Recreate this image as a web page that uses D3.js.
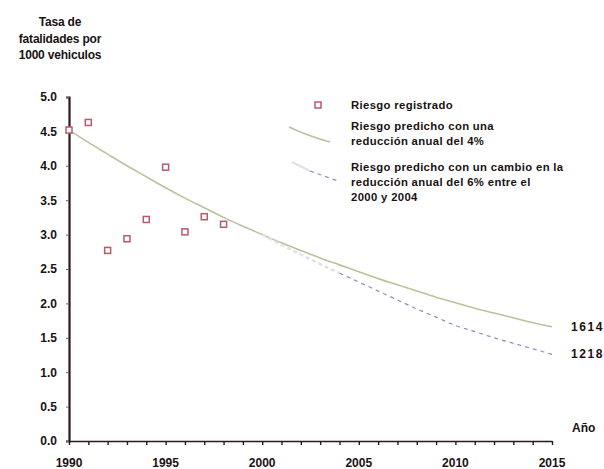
<!DOCTYPE html>
<html>
<head>
<meta charset="utf-8">
<script src="https://cdn.jsdelivr.net/npm/d3@7"></script>
<style>
  body { margin: 0; background: #fff; }
  svg text { font-family: "Liberation Sans", Arial, sans-serif; font-weight: bold; fill: #1a1214; }
</style>
</head>
<body>
<div id="chart"></div>
<script>
// observed rate
const obsYears = [1990, 1991, 1992, 1993, 1994, 1995, 1996, 1997, 1998];
const obsValues = [4.52, 4.63, 2.77, 2.94, 3.22, 3.98, 3.04, 3.26, 3.15];

// predicted, 4% annual reduction
const predYears = [1990, 1991, 1992, 1993, 1994, 1995, 1996, 1997, 1998, 1999, 2000, 2001, 2002,
  2003, 2004, 2005, 2006, 2007, 2008, 2009, 2010, 2011, 2012, 2013, 2014, 2015];
const predValues = [4.52, 4.34, 4.17, 4.0, 3.84, 3.68, 3.53, 3.39, 3.25, 3.12, 3.0, 2.88, 2.77,
  2.66, 2.56, 2.46, 2.36, 2.27, 2.18, 2.09, 2.01, 1.93, 1.86, 1.79, 1.72, 1.66];

// predicted, 6% change between 2000 and 2004
const altYears = [2000, 2001, 2002, 2003, 2004, 2005, 2006, 2007, 2008, 2009, 2010, 2011, 2012, 2013, 2014, 2015];
const altValues = [3.0, 2.85, 2.71, 2.57, 2.44, 2.31, 2.18, 2.05, 1.92, 1.8, 1.68, 1.59, 1.5, 1.42, 1.34, 1.26];

const yTicks = [0, 0.5, 1, 1.5, 2, 2.5, 3, 3.5, 4, 4.5, 5];
const xTicks = [1990, 1995, 2000, 2005, 2010, 2015];
const endLabels = ["1614", "1218"];

const width = 604, height = 469;
const svg = d3.select("#chart").append("svg").attr("width", width).attr("height", height);

const x = d3.scaleLinear().domain([1990, 2015]).range([69, 552]);
const y = d3.scaleLinear().domain([0, 5]).range([441, 97]);

// title
svg.append("text").attr("text-anchor", "middle")
  .style("font-size", "12px").style("letter-spacing", "-0.2px")
  .selectAll("tspan").data(["Tasa de", "fatalidades por", "1000 vehiculos"]).join("tspan")
  .attr("x", 60).attr("y", (d, i) => 26 + i * 16.5).text(d => d);

// y axis
const yAxis = svg.append("g").attr("transform", `translate(${x(1990)},0)`)
  .call(d3.axisLeft(y).tickValues(yTicks).tickFormat(d3.format(".1f")).tickSize(3).tickPadding(9));
yAxis.select(".domain").attr("stroke", "#2a1a1c").attr("stroke-width", 2.2);
yAxis.selectAll(".tick line").attr("stroke", "#666");
yAxis.selectAll(".tick text").style("font-size", "12px").style("font-family", "Liberation Sans, Arial, sans-serif")
  .style("font-weight", "bold").attr("fill", "#1a1214");

// x axis with yearly minor ticks
const xAxis = svg.append("g").attr("transform", `translate(0,${y(0)})`)
  .call(d3.axisBottom(x).tickValues(d3.range(1990, 2016)).tickFormat("").tickSize(4).tickSizeOuter(0));
xAxis.select(".domain").attr("stroke", "#2a1a1c").attr("stroke-width", 1.6);
xAxis.selectAll(".tick line").attr("stroke", "#2a1a1c").attr("stroke-width", 1.4);

svg.append("g").selectAll("text").data(xTicks).join("text")
  .attr("x", d => x(d)).attr("y", 467).attr("text-anchor", "middle")
  .style("font-size", "12px").text(d => d);

// lines
const line = d3.line().x(d => x(d[0])).y(d => y(d[1])).curve(d3.curveMonotoneX);

svg.append("path").datum(predYears.map((d, i) => [d, predValues[i]]))
  .attr("d", line).attr("fill", "none").attr("stroke", "#b9c39b").attr("stroke-width", 1.6);

const alt = altYears.map((d, i) => [d, altValues[i]]);
svg.append("path").datum(alt.filter(d => d[0] <= 2004))
  .attr("d", line).attr("fill", "none").attr("stroke", "#e2e2e6").attr("stroke-width", 2.5)
  .attr("stroke-dasharray", "4,3");
svg.append("path").datum(alt.filter(d => d[0] >= 2004))
  .attr("d", line).attr("fill", "none").attr("stroke", "#8f87c6").attr("stroke-width", 1.2)
  .attr("stroke-dasharray", "4,4");

// observed markers
svg.append("g").selectAll("rect").data(obsYears.map((d, i) => [d, obsValues[i]])).join("rect")
  .attr("x", d => x(d[0]) - 3).attr("y", d => y(d[1]) - 3).attr("width", 6).attr("height", 6)
  .attr("fill", "#fff").attr("stroke", "#b65a6c").attr("stroke-width", 1.5);

// end labels
svg.append("text").attr("x", 571).attr("y", y(predValues[predValues.length - 1]) + 4)
  .style("font-size", "12px").style("letter-spacing", "1.6px").text(endLabels[0]);
svg.append("text").attr("x", 571).attr("y", y(altValues[altValues.length - 1]) + 4)
  .style("font-size", "12px").style("letter-spacing", "1.6px").text(endLabels[1]);
svg.append("text").attr("x", 572).attr("y", 432).style("font-size", "12px").text("Año");

// legend
const lg = svg.append("g").style("font-size", "11.3px").style("letter-spacing", "0.35px");
lg.append("rect").attr("x", 315).attr("y", 102).attr("width", 6).attr("height", 6)
  .attr("fill", "#fff").attr("stroke", "#b65a6c").attr("stroke-width", 1.5);
lg.append("text").attr("x", 351).attr("y", 109).text("Riesgo registrado");

lg.append("path").attr("d", "M289,127 Q308,136 330,142").attr("fill", "none")
  .attr("stroke", "#b9c39b").attr("stroke-width", 1.5);
lg.append("text").attr("x", 351).attr("y", 130).text("Riesgo predicho con una");
lg.append("text").attr("x", 351).attr("y", 145).text("reducción anual del 4%");

lg.append("path").attr("d", "M292,162 L310,171").attr("fill", "none")
  .attr("stroke", "#e2e2e6").attr("stroke-width", 2.5);
lg.append("path").attr("d", "M310,171 L338,181").attr("fill", "none")
  .attr("stroke", "#8f87c6").attr("stroke-width", 1.2).attr("stroke-dasharray", "4,4");
lg.append("text").attr("x", 351).attr("y", 171).text("Riesgo predicho con un cambio en la");
lg.append("text").attr("x", 351).attr("y", 186).text("reducción anual del 6% entre  el");
lg.append("text").attr("x", 351).attr("y", 201).text("2000 y 2004");
</script>
</body>
</html>
